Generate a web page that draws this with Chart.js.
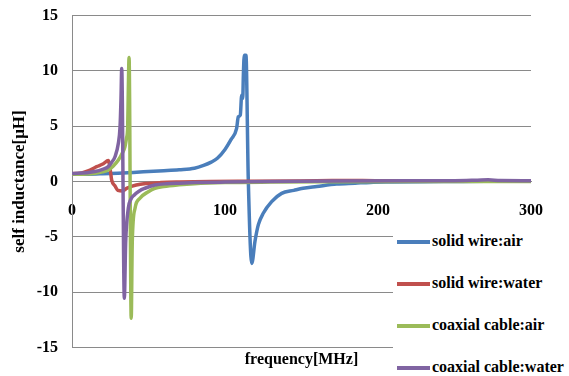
<!DOCTYPE html>
<html>
<head>
<meta charset="utf-8">
<script src="https://cdn.jsdelivr.net/npm/chart.js@4/dist/chart.umd.min.js"></script>
<style>
  body { margin: 0; background: #fff; overflow: hidden; }
  #wrap { position: relative; width: 569px; height: 376px; }
  #newChart { display: block; }
  #legend { position: absolute; left: 393px; top: 222px; width: 176px; height: 154px; background: #fff; }
  .item { position: absolute; left: 0; height: 20px; line-height: 20px; white-space: nowrap; font: bold 16px "Liberation Serif", serif; color: #000; }
  .swatch { display: inline-block; width: 33px; height: 4px; margin: 0 2px 0 4px; vertical-align: middle; }
</style>
</head>
<body>
<div id="wrap">
  <canvas id="newChart" width="569" height="376"></canvas>
  <div id="legend"></div>
</div>
<script>
// series labels and colours
var seriesNames = ['solid wire:air', 'solid wire:water', 'coaxial cable:air', 'coaxial cable:water'];
var seriesColors = ['#4a7ebb', '#c0504d', '#9bbb59', '#8064a2'];

// solid wire in air
var wireAirFreq = [0, 10, 20, 30, 40, 50, 60, 70, 80, 86, 91, 95, 100, 104, 107.6, 108.7, 110, 110.9, 111.6, 112, 112.6, 113.7, 115.2, 117.5, 119.6, 121.8, 125, 130.5, 137, 145, 151, 160, 173, 185, 195, 210, 230, 250, 270, 285, 300];
var wireAirL = [0.65, 0.66, 0.7, 0.75, 0.82, 0.9, 0.98, 1.07, 1.2, 1.45, 1.75, 2.1, 2.9, 3.8, 4.8, 5.85, 6.0, 7.8, 7.5, 9.6, 11.4, 11.4, 0.3, -7.4, -5.4, -3.9, -2.87, -1.82, -1.07, -0.8, -0.61, -0.45, -0.23, -0.15, -0.08, -0.05, -0.02, 0, 0.02, 0.03, 0.03];

// solid wire in water
var wireWaterFreq = [0, 5, 8, 11.8, 16.1, 20.5, 23.7, 25.3, 25.9, 28.1, 30, 33, 36, 42, 49, 58, 70, 90, 120, 150, 170, 190, 210, 240, 270, 300];
var wireWaterL = [0.7, 0.75, 0.85, 1.04, 1.34, 1.6, 1.9, 0.74, 0.14, -0.4, -0.8, -0.85, -0.6, -0.32, -0.18, -0.1, -0.05, 0, 0.02, 0.05, 0.08, 0.1, 0.06, 0.03, 0.02, 0.02];

// coaxial cable in air
var coaxAirFreq = [0, 10, 15, 20, 23.7, 27, 30.3, 33, 34.6, 35.6, 36.4, 36.8, 37.3, 38.7, 39.4, 41.2, 44.4, 49.9, 54.2, 60, 70, 80, 100, 130, 170, 220, 260, 300];
var coaxAirL = [0.65, 0.68, 0.75, 0.88, 1.04, 1.4, 1.94, 2.6, 3.14, 3.9, 4.95, 8.27, 11.2, -12.36, -5.44, -2.42, -1.52, -0.92, -0.61, -0.45, -0.3, -0.2, -0.1, -0.05, -0.02, 0, 0, 0];

// coaxial cable in water
var coaxWaterFreq = [0, 10, 15, 20, 23.7, 26, 28.1, 30.3, 31.4, 32, 32.5, 34.2, 35.1, 36.8, 38.5, 40.7, 44, 47.7, 54.2, 62, 70, 80, 100, 130, 170, 220, 250, 265, 272, 280, 300];
var coaxWaterL = [0.72, 0.8, 0.9, 1.1, 1.34, 1.75, 2.24, 3.45, 4.95, 7.36, 10.2, -10.55, -5.44, -2.42, -1.6, -1.22, -0.85, -0.61, -0.32, -0.2, -0.15, -0.1, -0.05, 0, 0.04, 0.06, 0.07, 0.12, 0.15, 0.08, 0.07];

var yTicks = [-15, -10, -5, 0, 5, 10, 15];
var xTicks = [0, 100, 200, 300];

var freqs = [wireAirFreq, wireWaterFreq, coaxAirFreq, coaxWaterFreq];
var values = [wireAirL, wireWaterL, coaxAirL, coaxWaterL];

function toPoints(f, l) {
  return f.map(function(v, i) { return {x: v, y: l[i]}; });
}

var datasets = [];
for (let i = 0; i < seriesNames.length; i++) {
  datasets.push({
    label: seriesNames[i],
    data: toPoints(freqs[i], values[i]),
    borderColor: seriesColors[i],
    backgroundColor: seriesColors[i],
    borderWidth: 3.5,
    pointRadius: 0,
    fill: false,
    cubicInterpolationMode: 'monotone',
    // excel draws the last series on top
    order: seriesNames.length - 1 - i
  });
}

var serif = '"Liberation Serif", "Times New Roman", serif';
var gridGrey = '#8a8a8a';

var ctx = document.getElementById('newChart');
var myChart = new Chart(ctx, {
  type: 'line',
  data: { datasets: datasets },
  options: {
    responsive: false,
    animation: false,
    layout: { padding: { top: 15.5, right: 38, bottom: 0, left: 0 } },
    plugins: { legend: { display: false }, tooltip: { enabled: false } },
    scales: {
      x: {
        type: 'linear',
        position: { y: 0 },
        min: 0, max: 300,
        afterBuildTicks: function(scale) { scale.ticks = xTicks.map(function(v) { return {value: v}; }); },
        grid: { display: false, drawTicks: false },
        border: { display: true, color: gridGrey, width: 1 },
        ticks: { padding: 20, color: '#000', font: { family: serif, size: 16, weight: 'bold' } }
      },
      x2: {
        type: 'linear',
        position: 'bottom',
        min: 0, max: 300,
        grid: { display: false, drawTicks: false },
        border: { display: false },
        ticks: { display: false },
        title: { display: true, text: 'frequency[MHz]', color: '#000', padding: { top: 0, bottom: 7 }, font: { family: serif, size: 16, weight: 'bold' } },
        afterFit: function(scale) { scale.height = 28.5; }
      },
      y: {
        min: -15, max: 15,
        afterBuildTicks: function(scale) { scale.ticks = yTicks.map(function(v) { return {value: v}; }); },
        // invisible tick marks give the gap between labels and axis
        grid: { color: gridGrey, lineWidth: 1, drawTicks: true, tickLength: 12, tickColor: 'rgba(0,0,0,0)' },
        border: { display: true, color: gridGrey, width: 1 },
        ticks: { padding: 2, color: '#000', font: { family: serif, size: 16, weight: 'bold' } },
        title: { display: true, text: 'self inductance[μH]', color: '#000', padding: { top: 9, bottom: 0 }, font: { family: serif, size: 17, weight: 'bold' } },
        afterFit: function(scale) { scale.width = 72; }
      }
    }
  }
});

// legend drawn as html over the plot, like the original
var legendBox = document.getElementById('legend');
var rowCentres = [19.5, 61.5, 103.5, 145.5];
myChart.data.datasets.forEach(function(ds, i) {
  var row = document.createElement('div');
  row.className = 'item';
  row.style.top = (rowCentres[i] - 10) + 'px';
  var sw = document.createElement('span');
  sw.className = 'swatch';
  sw.style.background = ds.borderColor;
  row.appendChild(sw);
  row.appendChild(document.createTextNode(ds.label));
  legendBox.appendChild(row);
});
</script>
</body>
</html>
